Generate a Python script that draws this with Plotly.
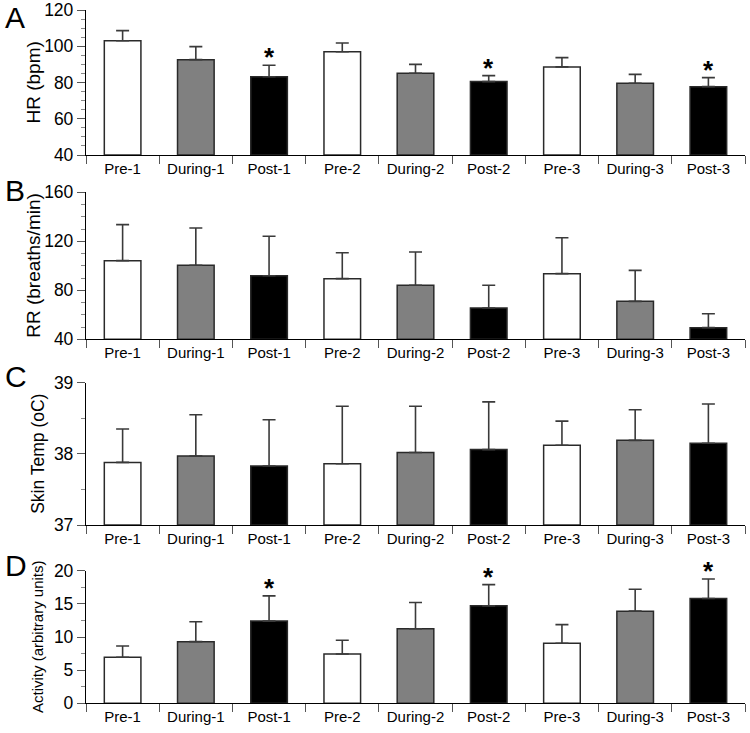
import plotly.graph_objects as go

categories = ["Pre-1", "During-1", "Post-1", "Pre-2", "During-2", "Post-2", "Pre-3", "During-3", "Post-3"]
bar_colors = ["white", "#808080", "black"] * 3

hr_mean = [103.0, 92.6, 83.2, 97.0, 85.1, 80.5, 88.6, 79.6, 77.7]
hr_top = [108.6, 99.8, 89.5, 101.8, 90.0, 83.8, 93.7, 84.5, 82.7]
hr_sig = [False, False, True, False, False, True, False, False, True]

rr_mean = [104.2, 100.4, 91.9, 89.5, 84.1, 65.6, 93.6, 71.0, 49.5]
rr_top = [133.6, 130.9, 124.1, 110.7, 111.3, 84.1, 122.9, 96.3, 60.9]
rr_sig = [False] * 9

temp_mean = [37.88, 37.97, 37.83, 37.86, 38.02, 38.06, 38.12, 38.19, 38.15]
temp_top = [38.35, 38.55, 38.48, 38.67, 38.67, 38.73, 38.46, 38.62, 38.70]
temp_sig = [False] * 9

act_mean = [6.94, 9.3, 12.4, 7.44, 11.25, 14.7, 9.05, 13.9, 15.8]
act_top = [8.64, 12.3, 16.2, 9.5, 15.2, 17.9, 11.86, 17.2, 18.75]
act_sig = [False, False, True, False, False, True, False, False, True]

panels = [
    dict(letter="A", title="HR (bpm)", mean=hr_mean, top=hr_top, sig=hr_sig,
         rng=[40, 120], dtick=20, minor=5, base=40, tsize=19, tx=33),
    dict(letter="B", title="RR (breaths/min)", mean=rr_mean, top=rr_top, sig=rr_sig,
         rng=[40, 160], dtick=40, minor=10, base=40, tsize=19, tx=34),
    dict(letter="C", title="Skin Temp (oC)", mean=temp_mean, top=temp_top, sig=temp_sig,
         rng=[37, 39], dtick=1, minor=0.5, base=37, tsize=17.5, tx=38),
    dict(letter="D", title="Activity (arbitrary units)", mean=act_mean, top=act_top, sig=act_sig,
         rng=[0, 20], dtick=5, minor=2.5, base=0, tsize=15, tx=37),
]

W = 750
H = 733
ML, MR = 86, 5
# pixel extents (top, bottom) of each panel
pix = [(10, 155), (192.3, 339.3), (382.7, 525), (570.7, 703.3)]
letter_y = [18, 190, 376, 565]

FONT = "Arial, Liberation Sans, sans-serif"
fig = go.Figure()
annotations = []
layout = {}
pw = W - ML - MR


def px_x(x):
    return (x - ML) / pw


def px_y(y):
    return 1 - y / H


for i, p in enumerate(panels):
    n = "" if i == 0 else str(i + 1)
    xa = "x" + n
    ya = "y" + n
    err = [t - m for t, m in zip(p["top"], p["mean"])]
    fig.add_trace(go.Bar(
        x=categories, y=[m - p["base"] for m in p["mean"]], base=p["base"],
        xaxis=xa, yaxis=ya, width=0.5,
        marker=dict(color=bar_colors, line=dict(color="#2a2a2a", width=1.5)),
        error_y=dict(type="data", array=err, arrayminus=[0] * 9, symmetric=False,
                     color="#3a3a3a", thickness=1.6, width=6.5),
        showlegend=False, hoverinfo="skip",
    ))
    t, b = pix[i]
    dom = [px_y(b), px_y(t)]
    layout["xaxis" + n] = dict(
        domain=[0, 1], anchor=ya, type="category", range=[-0.5, 8.5],
        showline=True, linecolor="black", linewidth=1.3,
        ticks="outside", ticklen=8, tickwidth=1, tickcolor="#555",
        tickson="boundaries", showgrid=False, zeroline=False, automargin=False,
        tickfont=dict(family=FONT, size=15, color="black"),
        categoryorder="array", categoryarray=categories,
    )
    layout["yaxis" + n] = dict(
        domain=dom, anchor=xa, range=p["rng"], dtick=p["dtick"], tick0=p["rng"][0],
        showline=True, linecolor="black", linewidth=1.3,
        ticks="outside", ticklen=8, tickwidth=1, tickcolor="#555",
        showgrid=False, zeroline=False, automargin=False, ticklabeloverflow="allow",
        tickfont=dict(family=FONT, size=17.5, color="black"),
        minor=dict(dtick=p["minor"], tick0=p["rng"][0], ticks="outside", ticklen=4,
                   tickcolor="#888", tickwidth=1, showgrid=False),
    )
    # y-axis title
    annotations.append(dict(
        text=p["title"], xref="paper", yref="paper",
        x=px_x(p["tx"]), y=(dom[0] + dom[1]) / 2, xanchor="center", yanchor="middle",
        textangle=-90, showarrow=False, font=dict(family=FONT, size=p["tsize"], color="black"),
    ))
    # panel letter
    annotations.append(dict(
        text=p["letter"], xref="paper", yref="paper",
        x=px_x(3), y=px_y(letter_y[i]), xanchor="left", yanchor="middle",
        showarrow=False, font=dict(family=FONT, size=30, color="black"),
    ))
    # significance asterisks
    for c, tp, s in zip(categories, p["top"], p["sig"]):
        if s:
            annotations.append(dict(
                text="<b>*</b>", x=c, y=tp, xref=xa, yref=ya, xanchor="center", yanchor="bottom",
                yshift=-9, showarrow=False, font=dict(family=FONT, size=26, color="black"),
            ))

fig.update_layout(
    width=W, height=H, margin=dict(l=ML, r=MR, t=0, b=0, autoexpand=False),
    plot_bgcolor="white", paper_bgcolor="white",
    annotations=annotations, bargap=0.5, **layout,
)
fig.write_html(
    "out.html",
    config={"displayModeBar": False},
    post_script="document.body.style.margin='0px';document.body.style.padding='0px';",
)
